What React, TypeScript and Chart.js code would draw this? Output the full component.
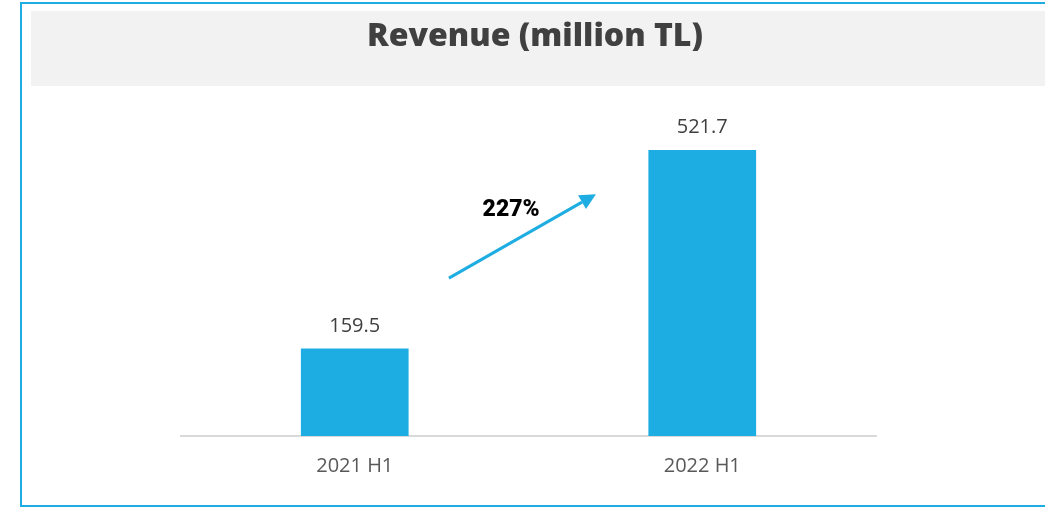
import React, { useEffect, useRef } from "react";
import { Chart, registerables } from "chart.js";

Chart.register(...registerables);

const categories = ["2021 H1", "2022 H1"];
const revenue = [159.5, 521.7];
const titleText = "Revenue (million TL)";
const growthLabel = "227%";
// arrow annotation in data space: [categoryIndex, value]
const arrowStart = [0.271, 288];
const arrowEnd = [0.694, 441];
const growthLabelPos = [0.45, 412];

const BLUE = "#1EADE3";

const framePlugin = {
  id: "frame",
  beforeDraw(chart: any) {
    const { ctx } = chart;
    ctx.save();
    ctx.fillStyle = "#ffffff";
    ctx.fillRect(0, 0, chart.width, chart.height);
    ctx.strokeStyle = BLUE;
    ctx.lineWidth = 2;
    ctx.strokeRect(21, 3, 1040, 503);
    ctx.fillStyle = "#f2f2f2";
    ctx.fillRect(31, 11, 1020, 75);
    ctx.fillStyle = "#404040";
    ctx.font = "800 32px 'Open Sans'";
    ctx.textAlign = "center";
    ctx.textBaseline = "middle";
    ctx.fillText(titleText, 535, 37);
    ctx.restore();
  },
  afterDatasetsDraw(chart: any) {
    const { ctx } = chart;
    const xs = chart.scales.x;
    const ys = chart.scales.y;
    ctx.save();
    // value labels
    ctx.fillStyle = "#404040";
    ctx.font = "20px 'Open Sans'";
    ctx.textAlign = "center";
    ctx.textBaseline = "alphabetic";
    const meta = chart.getDatasetMeta(0);
    meta.data.forEach((bar: any, i: number) => {
      ctx.fillText(revenue[i].toFixed(1), bar.x, bar.y - 17);
    });
    // arrow
    const x1 = xs.getPixelForValue(arrowStart[0]);
    const y1 = ys.getPixelForValue(arrowStart[1]);
    const x2 = xs.getPixelForValue(arrowEnd[0]);
    const y2 = ys.getPixelForValue(arrowEnd[1]);
    const ang = Math.atan2(y2 - y1, x2 - x1);
    const head = 16;
    const bx = x2 - head * Math.cos(ang);
    const by = y2 - head * Math.sin(ang);
    ctx.strokeStyle = BLUE;
    ctx.lineWidth = 3;
    ctx.beginPath();
    ctx.moveTo(x1, y1);
    ctx.lineTo(bx, by);
    ctx.stroke();
    ctx.fillStyle = BLUE;
    ctx.beginPath();
    ctx.moveTo(x2, y2);
    ctx.lineTo(bx + 8 * Math.sin(ang), by - 8 * Math.cos(ang));
    ctx.lineTo(bx - 8 * Math.sin(ang), by + 8 * Math.cos(ang));
    ctx.closePath();
    ctx.fill();
    // growth label
    ctx.fillStyle = "#000000";
    ctx.font = "900 23px Roboto";
    ctx.textAlign = "center";
    ctx.textBaseline = "middle";
    ctx.fillText(
      growthLabel,
      xs.getPixelForValue(growthLabelPos[0]),
      ys.getPixelForValue(growthLabelPos[1])
    );
    ctx.restore();
  },
};

export default function App() {
  const ref = useRef<HTMLCanvasElement>(null);
  useEffect(() => {
    if (!ref.current) return;
    const chart = new Chart(ref.current, {
      type: "bar",
      data: {
        labels: categories,
        datasets: [
          {
            data: revenue,
            backgroundColor: BLUE,
            barPercentage: 0.62,
            categoryPercentage: 0.5,
          },
        ],
      },
      options: {
        responsive: false,
        animation: false,
        layout: { padding: { left: 181, right: 169, top: 107, bottom: 11 } },
        plugins: {
          legend: { display: false },
          title: { display: false },
          tooltip: { enabled: false },
        },
        scales: {
          x: {
            grid: { display: true, color: "rgba(0,0,0,0)", drawTicks: false },
            border: { display: true, color: "#d9d9d9", width: 2 },
            ticks: {
              color: "#595959",
              font: { family: "'Open Sans'", size: 20 },
              padding: 18,
            },
          },
          y: {
            display: false,
            min: 0,
            max: 600,
          },
        },
      },
      plugins: [framePlugin],
    });
    return () => chart.destroy();
  }, []);
  return (
    <canvas
      ref={ref}
      width={1045}
      height={507}
      style={{ position: "absolute", left: 0, top: 0, width: 1045, height: 507 }}
    />
  );
}
